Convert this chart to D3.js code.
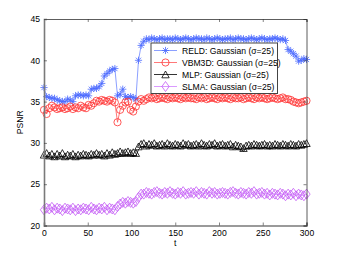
<!DOCTYPE html>
<html lang="en">
<head>
    <meta charset="UTF-8">
    <title>PSNR</title>
    <style>
        body { margin: 0; background: #fff; }
        text { font-family: "Liberation Sans", Arial, sans-serif; }
    </style>
</head>
<body>
<script src="https://d3js.org/d3.v7.min.js"></script>
<script>
    // frame indices (every 3rd frame)
    const frames = d3.range(0, 301, 3);

    const reld = [
        36.7, 35.6, 35.5, 35.4, 35.4, 35.2, 35.1, 35.0, 35.0, 35.3,
        35.2, 35.0, 35.7, 35.8, 35.8, 35.7, 35.8, 35.7, 36.5, 36.6,
        36.6, 36.8, 37.2, 38.1, 38.4, 38.7, 38.9, 39.0, 35.7, 35.9,
        36.5, 35.6, 35.5, 35.6, 35.5, 35.3, 40.0, 41.8, 42.3,
        42.6, 42.5, 42.7, 42.6, 42.5, 42.6, 42.7, 42.5, 42.6, 42.6,
        42.5, 42.7, 42.6, 42.5, 42.6, 42.7, 42.6, 42.5, 42.6, 42.7,
        42.6, 42.6, 42.5, 42.7, 42.6, 42.5, 42.6, 42.7, 42.6, 42.5,
        42.6, 42.6, 42.7, 42.5, 42.6, 42.7, 42.6, 42.6, 42.5, 42.6,
        42.7, 42.6, 42.5, 42.6, 42.7, 42.6, 42.5, 42.6, 42.6, 42.7,
        42.6, 42.5, 42.6, 42.4,
        41.3, 41.1, 40.8, 40.5, 39.9, 40.0, 40.2, 40.1
    ];

    const vbm3d = [
        34.0, 33.5, 34.2, 34.5, 34.3, 34.1, 34.2, 34.3, 34.1, 34.2,
        34.4, 34.1, 34.3, 34.2, 34.5, 34.3, 34.2, 34.6, 34.5, 34.8,
        35.1, 35.0, 35.2, 35.1, 35.0, 35.2, 35.1, 34.9, 32.5, 34.0,
        34.5, 34.9, 35.0, 34.0, 33.8, 34.4, 35.0, 35.3, 35.1,
        35.3, 35.5, 35.4, 35.5, 35.3, 35.4, 35.5, 35.4, 35.3, 35.5,
        35.4, 35.5, 35.4, 35.3, 35.5, 35.4, 35.5, 35.4, 35.4, 35.3,
        35.5, 35.4, 35.5, 35.3, 35.4, 35.5, 35.4, 35.3, 35.5, 35.4,
        35.5, 35.4, 35.3, 35.5, 35.4, 35.4, 35.5, 35.3, 35.4, 35.5,
        35.4, 35.3, 35.5, 35.4, 35.5, 35.4, 35.3, 35.4, 35.5, 35.4,
        35.3, 35.4, 35.5, 35.3,
        35.3, 35.2, 35.0, 34.9, 34.8, 34.9, 35.0, 35.1
    ];

    const mlp = [
        28.2, 28.4, 28.1, 28.3, 28.0, 28.3, 28.1, 28.4, 28.0, 28.2,
        28.1, 28.3, 28.0, 28.2, 28.1, 28.3, 28.2, 28.1, 28.3, 28.2,
        28.4, 28.2, 28.3, 28.1, 28.4, 28.2, 28.5, 28.3, 28.4, 28.6,
        28.4, 28.5, 28.6, 28.4, 28.5, 28.4,
        29.2, 29.5,
        29.6, 29.3, 29.5, 29.4, 29.6, 29.3, 29.4, 29.5, 29.3, 29.6,
        29.4, 29.3, 29.5, 29.4, 29.3, 29.6, 29.4, 29.5, 29.3, 29.4,
        29.5, 29.3, 29.6, 29.4, 29.3, 29.5, 29.4, 29.6, 29.3, 29.4,
        29.5, 29.3, 29.4, 29.5, 29.2, 29.4, 29.3, 29.2, 29.0, 29.3,
        29.4, 29.3, 29.5, 29.4, 29.3, 29.4, 29.5, 29.3, 29.4, 29.3,
        29.5, 29.4, 29.3, 29.5, 29.4, 29.3, 29.5, 29.4, 29.3, 29.5,
        29.4, 29.5, 29.6
    ];

    const slma = [
        21.9, 22.1, 22.0, 22.2, 21.9, 22.1, 22.0, 21.8, 22.1, 22.0,
        21.9, 22.1, 21.8, 22.0, 21.9, 22.1, 22.0, 21.9, 22.2, 22.0,
        21.9, 22.1, 22.0, 22.2, 21.9, 22.1, 22.0, 21.9,
        22.3, 22.6, 22.8, 22.7, 22.9, 22.8, 22.7, 22.9,
        23.4, 23.8,
        23.8, 24.0, 23.9, 23.8, 24.0, 24.1, 23.9, 23.8, 24.0, 23.9,
        24.1, 23.9, 23.8, 24.0, 23.9, 24.1, 23.8, 23.9, 24.0, 23.9,
        24.1, 23.8, 24.0, 23.9, 23.8, 24.1, 23.9, 24.0, 23.8, 23.9,
        24.0, 23.9, 23.8, 24.0, 24.1, 23.9, 23.8, 24.0, 23.9, 23.8,
        24.0, 23.9, 24.1, 23.8, 23.9, 24.0, 23.8, 23.9, 23.7, 23.9,
        23.8, 23.7, 23.9, 23.8, 23.6, 23.8, 23.7, 23.9, 23.6, 23.8,
        23.7, 23.6, 23.8
    ];

    const xTicks = [0, 50, 100, 150, 200, 250, 300];
    const yTicks = [20, 25, 30, 35, 40, 45];
    const labels = ["RELD: Gaussian (σ=25)", "VBM3D: Gaussian (σ=25)",
                    "MLP: Gaussian (σ=25)", "SLMA: Gaussian (σ=25)"];

    const W = 338, H = 254;
    const margin = {top: 19, right: 31.5, bottom: 28.5, left: 44};
    const width = W - margin.left - margin.right;
    const height = H - margin.top - margin.bottom;

    const svg = d3.select("body").append("svg")
        .attr("width", W)
        .attr("height", H);
    const g = svg.append("g")
        .attr("transform", "translate(" + margin.left + "," + margin.top + ")");

    const x = d3.scaleLinear().domain([0, 300]).range([0, width]);
    const y = d3.scaleLinear().domain([20, 45]).range([height, 0]);

    // marker shapes
    const star = "M-3.6,0H3.6M0,-3.6V3.6M-2.6,-2.6L2.6,2.6M-2.6,2.6L2.6,-2.6";
    const tri = "M0,-6.5L3.7,0.3L-3.7,0.3Z";
    const diamond = "M0,-5L3.6,0L0,5L-3.6,0Z";

    const series = [
        {name: labels[0], values: reld, color: "#4d6bff", line: "#6f88ff", marker: "star"},
        {name: labels[1], values: vbm3d, color: "#ff3030", line: "#ff5555", marker: "circle"},
        {name: labels[2], values: mlp, color: "#000", line: "#000", marker: "tri"},
        {name: labels[3], values: slma, color: "#c45cf5", line: "#d080ff", marker: "diamond"}
    ];

    function drawMarker(sel, s) {
        if (s.marker === "circle") {
            sel.append("circle").attr("r", 3.6)
                .attr("fill", "none").attr("stroke", s.color).attr("stroke-width", 0.8);
        } else {
            sel.append("path")
                .attr("d", s.marker === "star" ? star : s.marker === "tri" ? tri : diamond)
                .attr("fill", "none").attr("stroke", s.color).attr("stroke-width", 0.8);
        }
    }

    const line = d3.line()
        .x((d, i) => x(frames[i]))
        .y(d => y(d));

    series.forEach(s => {
        g.append("path")
            .datum(s.values)
            .attr("fill", "none")
            .attr("stroke", s.line)
            .attr("stroke-width", 0.8)
            .attr("d", line);

        g.selectAll(null)
            .data(s.values)
            .enter().append("g")
            .attr("transform", (d, i) => "translate(" + x(frames[i]) + "," + y(d) + ")")
            .each(function () { drawMarker(d3.select(this), s); });
    });

    // axes (ticks inward, mirrored)
    const fontSize = "8.6px";
    const xAxis = g.append("g")
        .attr("transform", "translate(0," + height + ")")
        .call(d3.axisBottom(x).tickValues(xTicks).tickSize(-3).tickPadding(4));
    g.append("g")
        .call(d3.axisTop(x).tickValues(xTicks).tickSize(-3).tickFormat(""));
    const yAxis = g.append("g")
        .call(d3.axisLeft(y).tickValues(yTicks).tickSize(-3).tickPadding(4));
    g.append("g")
        .attr("transform", "translate(" + width + ",0)")
        .call(d3.axisRight(y).tickValues(yTicks).tickSize(-3).tickFormat(""));

    g.selectAll(".domain").attr("stroke", "#333").attr("stroke-width", 0.8);
    g.selectAll(".tick line").attr("stroke", "#333").attr("stroke-width", 0.6);
    g.selectAll(".tick text").style("font-size", fontSize).attr("fill", "#000");

    // thicker grey left/bottom spines
    xAxis.select(".domain").attr("stroke", "#7a7a7a").attr("stroke-width", 1.6);
    yAxis.select(".domain").attr("stroke", "#7a7a7a").attr("stroke-width", 1.6);

    // axis titles
    g.append("text")
        .attr("x", x(150))
        .attr("y", height + 20)
        .attr("text-anchor", "middle")
        .style("font-size", fontSize)
        .text("t");
    g.append("text")
        .attr("transform", "translate(" + (-21) + "," + (height / 2) + ") rotate(-90)")
        .attr("text-anchor", "middle")
        .style("font-size", fontSize)
        .text("PSNR");

    // legend
    const legend = svg.append("g").attr("transform", "translate(151,43)");
    legend.append("rect")
        .attr("width", 126.5)
        .attr("height", 50.5)
        .attr("fill", "#fff")
        .attr("stroke", "#444")
        .attr("stroke-width", 1);

    series.forEach((s, i) => {
        const row = legend.append("g").attr("transform", "translate(0," + (7.5 + i * 12) + ")");
        row.append("line")
            .attr("x1", 3).attr("x2", 26)
            .attr("stroke", s.line).attr("stroke-width", 0.8);
        const m = row.append("g").attr("transform", "translate(14.5," + (s.marker === "tri" ? 3 : 0) + ")");
        drawMarker(m, s);
        row.append("text")
            .attr("x", 31)
            .attr("dy", "0.35em")
            .style("font-size", fontSize)
            .text(s.name);
    });
</script>
</body>
</html>
